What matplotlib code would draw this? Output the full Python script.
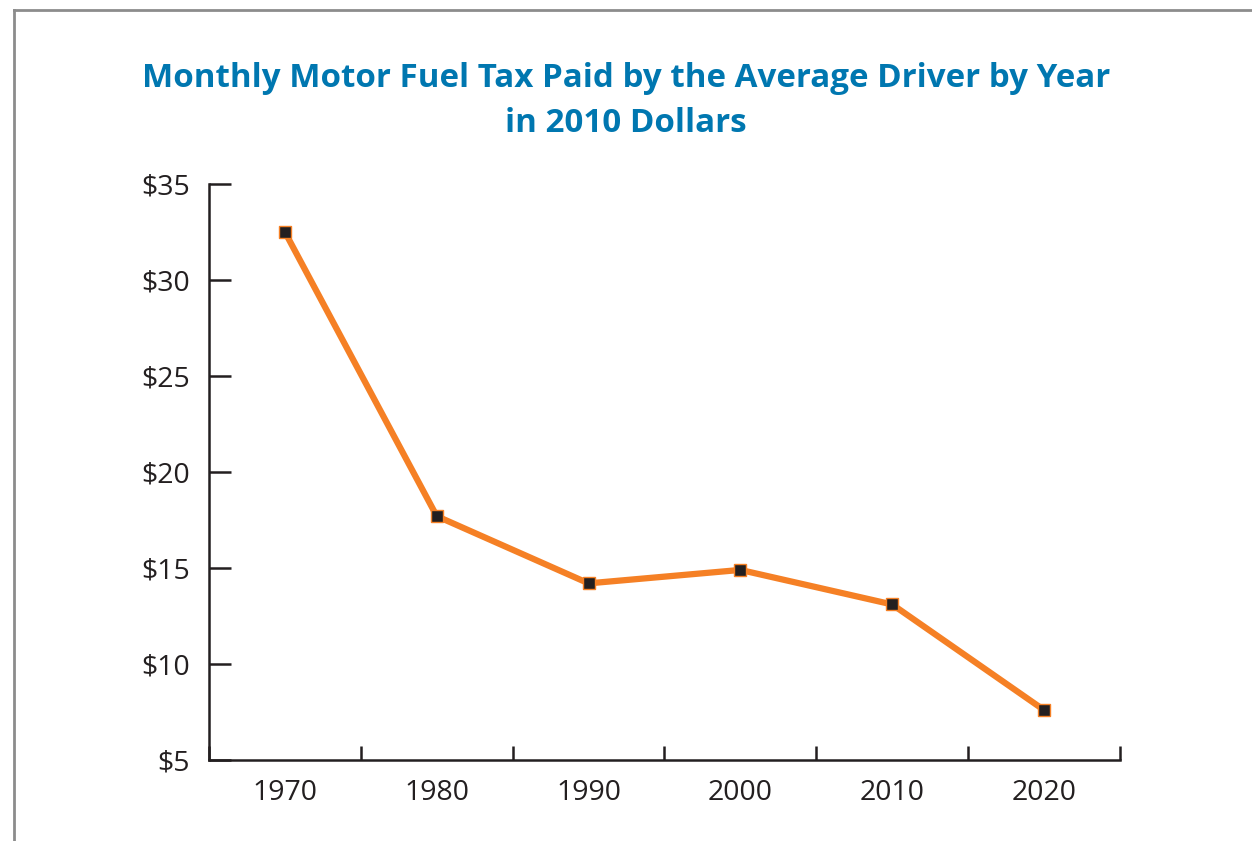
import matplotlib.pyplot as plt
from matplotlib.lines import Line2D

years = ["1970", "1980", "1990", "2000", "2010", "2020"]
tax = [32.5, 17.7, 14.2, 14.9, 13.1, 7.6]
yticks = [5, 10, 15, 20, 25, 30, 35]

plt.rcParams["font.family"] = ["Open Sans", "DejaVu Sans"]

fig = plt.figure(figsize=(12.52, 8.41), dpi=100)
ax = fig.add_axes([209 / 1252, 1 - 760 / 841, (1120 - 209) / 1252, (760 - 184) / 841])

x = list(range(len(years)))
ax.plot(x, tax, color="#F58025", linewidth=4.5, marker="s", markersize=8,
        markerfacecolor="#231F20", markeredgecolor="#F58025", markeredgewidth=1)

ax.set_xlim(-0.5, len(years) - 0.5)
ax.set_ylim(5, 35)
ax.set_xticks(x)
ax.set_xticklabels(years, fontsize=20.5, color="#231F20")
ax.set_xticks([i + 0.5 for i in range(-1, len(years))], minor=True)
ax.tick_params(axis="x", which="major", length=0, pad=14)
ax.tick_params(axis="x", which="minor", direction="in", length=10, width=1.8, color="#231F20")

ax.set_yticks(yticks)
ax.set_yticklabels(["$" + str(v) for v in yticks], fontsize=20.5, color="#231F20")
ax.tick_params(axis="y", direction="in", length=16, width=1.8, color="#231F20", pad=14)

for s in ["top", "right"]:
    ax.spines[s].set_visible(False)
for s in ["left", "bottom"]:
    ax.spines[s].set_linewidth(1.8)
    ax.spines[s].set_color("#231F20")

fig.text(0.5, 1 - 101 / 841, "Monthly Motor Fuel Tax Paid by the Average Driver by Year\nin 2010 Dollars",
         ha="center", va="center", fontsize=23.9, fontweight="bold", color="#0077B0",
         linespacing=1.45)

# frame lines at the top and left edge
fig.add_artist(Line2D([14 / 1252, 1], [1 - 10 / 841] * 2, color="#8C8C8C", linewidth=2))
fig.add_artist(Line2D([14 / 1252] * 2, [0, 1 - 10 / 841], color="#8C8C8C", linewidth=2))

fig.savefig("out.png", dpi=100)
